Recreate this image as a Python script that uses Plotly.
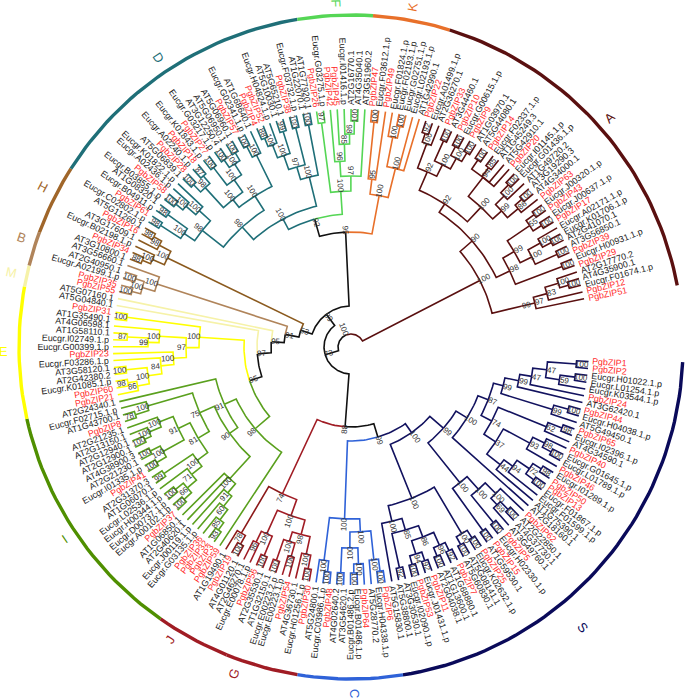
import math
import plotly.graph_objects as go

# tip labels, clockwise from the east
tip_labels = """PgbZIP1 PgbZIP2 Eucgr.H01022.1.p Eucgr.L01254.1.p Eucgr.K03544.1.p PgbZIP24 AT3G62420.1 PgbZIP44 Eucgr.H04038.1.p AT5G49450.1
PgbZIP65 Eucgr.I02396.1.p AT4G34590.1 PgbZIP40 Eucgr.G01645.1.p Eucgr.L01789.1.p PgbZIP46 Eucgr.I01289.1.p PgbZIP50 PgbZIP13
Eucgr.F01867.1.p Eucgr.F01599.1.p AT1G75390.1 AT2G18160.1 PgbZIP62 AT2G22850.1 AT4G37730.1 AT3G49760.1 PgbZIP5 Eucgr.H02330.1.p
PgbZIP15 AT1G59530.1 PgbZIP25 Eucgr.K02632.1.p AT5G08141.1 AT5G60830.1 PgbZIP7 AT1G68880.1 AT1G13600.1 AT2G04038.1
PgbZIP11 Eucgr.J01431.1.p PgbZIP53 Eucgr.I02090.1.p AT3G30530.1 AT5G38800.1 AT5G15830.1
PgbZIP6 Eucgr.H04338.1.p AT5G28770.2 PgbZIP64 Eucgr.B01486.1.p Eucgr.B01486.2.p AT3G54620.1 AT4G02640.2 PgbZIP48 Eucgr.C03986.1.p AT5G24800.1
PgbZIP30 Eucgr.H01256.1.p AT4G36730.1 PgbZIP54 Eucgr.E00223.1.p Eucgr.E00223.2.p AT1G32150.1 AT2G35530.1 PgbZIP56 Eucgr.E00078.1.p AT2G46270.1
AT4G01120.1 PgbZIP19 AT1G19490.1
PgbZIP59 PgbZIP3 PgbZIP32 PgbZIP36 Eucgr.G03135.1.p Eucgr.J00119.1.p AT2G40620.1 AT1G06850.1 PgbZIP37 Eucgr.A00102.1.p
Eucgr.D00737.1.p Eucgr.H00344.1.p Eucgr.L02536.1.p AT1G06070.1 AT2G31370.3 PgbZIP41 Eucgr.I01335.1.p AT2G21230.1 AT4G38900.3 AT2G12900.1
AT2G12940.1 AT2G13150.1 AT2G21235.1 PgbZIP8 AT1G43700.1 Eucgr.F02715.1.p AT2G24340.1
PgbZIP21 PgbZIP60 Eucgr.K01085.1.p AT2G42380.2 AT3G58120.1 Eucgr.F03286.1.p PgbZIP23 Eucgr.G00399.1.p Eucgr.I02749.1.p AT1G58110.1 AT4G06598.1 AT1G35490.1 PgbZIP31
AT5G04840.1 AT5G07160.1
PgbZIP55 PgbZIP35 Eucgr.A02199.1.p AT2G40950.1 AT3G56660.1
AT3G10800.1 PgbZIP34 Eucgr.B02198.1.p AT3G17609.1 PgbZIP16 AT5G11260.1
Eucgr.C02802.1.p PgbZIP61 Eucgr.B04911.p AT1G08320.1 Eucgr.B03855.1.p PgbZIP58 Eucgr.A02436.1.p Eucgr.K01822.1.p AT5G06839.1 PgbZIP28
Eucgr.A02240.1.p PgbZIP18 Eucgr.K01843.1.p PgbZIP27 Eucgr.G03217.1.p AT3G12250.4 AT5G06950.1 AT5G06960.1 PgbZIP57 Eucgr.G02341.1.p
AT1G68640.1 PgbZIP4 PgbZIP52 Eucgr.H04824.1.p AT5G10030.1 AT5G65210.1 PgbZIP38 Eucgr.F03732.1.p AT1G22070.1 AT1G77920.1
PgbZIP26 Eucgr.G03275.1.p PgbZIP42 PgbZIP45 Eucgr.I01416.1.p AT2G16770.1 AT4G35040.1 AT3G51960.2
PgbZIP47 Eucgr.F03612.1.p PgbZIP49 Eucgr.F01824.1.p Eucgr.F02193.1.p Eucgr.G02751.1.p Eucgr.L02193.1.p AT1G42990.1
PgbZIP22 Eucgr.A01499.1.p AT2G36270.1 PgbZIP33 AT3G44460.1 PgbZIP10 Eucgr.G00615.1.p PgbZIP9 AT1G03970.1 AT5G44080.1
PgbZIP14 Eucgr.F02337.1.p AT1G45249.3 AT5G42910.1 PgbZIP20 Eucgr.I01145.1.p Eucgr.G01436.1.p AT1G49720.2 AT3G19290.3 AT4G34000.1
PgbZIP63 Eucgr.J00320.1.p PgbZIP43 Eucgr.J00637.1.p PgbZIP17 Eucgr.A02171.1.p Eucgr.K01706.1.p AT2G41070.1 AT3G56850.1 PgbZIP39
Eucgr.H00931.1.p PgbZIP29 AT2G17770.2 AT4G35900.1 Eucgr.F01674.1.p PgbZIP12 PgbZIP51""".split()

clade_names = ["S", "C", "G", "J", "I", "E", "M", "B", "H", "D", "F", "K", "A"]
clade_colors = ["#12125f", "#2f62d8", "#a01c24", "#8c1a1a", "#5aa01e", "#ffff00", "#f6f2a8",
                "#b0845a", "#8b5a1e", "#1f6f78", "#55d655", "#e8702a", "#5a1010"]
arc_colors = ["#0a0a5a", "#2f62d8", "#a01c24", "#a01c24", "#4f8f00", "#ffff00", "#f6f2a8",
              "#b0845a", "#a0662a", "#1f6f78", "#55d655", "#e8702a", "#5a1010"]
# outer ring: where each clade's arc begins (deg clockwise from east), last is the end of A
arc_edges = [2.6, 81, 99.3, 112, 125, 167.5, 190.5, 194.2, 200.2, 212.5, 260.7, 273.8, 287.3, 349.3]
# clade letter: angle and radius
letter_theta = [50.5, 89.5, 109.7, 121.7, 146.1, 179.2, 192.4, 198.3, 207.4, 236.4, 267.5, 280.3, 318.4]
letter_r = [364, 346, 347, 344, 344, 348, 348, 347.5, 348, 348, 344, 346, 346]
palette = dict(zip(clade_names, clade_colors))

TIP_R = 238
BOX_R = 226


def n(r, label, kids, color=None, off=None):
    return dict(r=r, label=label, kids=kids, color=color, off=off)


def b(label="100"):
    return n(BOX_R, label, [0, 0])


def pale_tip():
    return n(TIP_R, "", [], palette["M"])


clade_S = n(106, "100", [
    n(124, "99", [
        n(137, "100", [
            n(148, "87", [
                n(158, "99", [
                    n(172, "99", [n(184, "47", [n(198, "47", [b(), n(212, "59", [b(), 0])]), 0]), 0]),
                    n(212, "99", [b(), 0])]),
                n(160, "74", [
                    n(212, "62", [b("98"), 0]),
                    n(174, "37", [
                        n(204, "93", [n(217, "98", [0, b()]), 0]),
                        n(191, "44", [n(202, "94", [n(217, "72", [b("98"), b()]), 0]), 0])])])]),
            0]),
        n(175, "100", [n(192, "100", [n(207, "100", [0, n(216, "69", [b(), 0])]), b()]), b()])]),
    n(164, "100", [
        n(218, "100", [b(), b()]),
        n(180, "100", [n(192, "85", [n(204, "86", [n(218, "96", [b("92"), b()]), n(218, "94", [b("92"), b()])]), b("92")]), 0])])],
    palette["S"])
clade_C = n(173, "100", [
    n(186, "100", [n(215, "100", [b(), 0]), n(202, "100", [n(218, "100", [0, b()]), b()])]),
    n(216, "100", [b(), 0])], palette["C"])
clade_J = n(217, "78", [b(), 0], palette["J"])
clade_G = n(163, "74", [
    n(180, "100", [
        n(195, "98", [n(213, "100", [b(), 0]), n(205, "100", [n(219, "100", [0, 0]), b()])]),
        n(206, "100", [b(), n(218, "96", [0, 0])])]),
    clade_J], palette["G"])
clade_I = n(127, "98", [0, n(140, "91", [
    n(150, "90", [
        n(180, "100", [n(192, "91", [n(205, "60", [n(218, "85", [b("93"), 0]), 0]), 0]), 0, 0]),
        n(166, "75", [
            n(179, "81", [
                n(192, "100", [n(205, "71", [n(217, "66", [b(), b()]), 0]), b("99")]),
                n(192, "91", [n(216, "100", [b(), b()]), n(207, "100", [n(220, "100", [b(), 0]), 0])])]),
            n(213, "100", [b("78"), 0])])]),
    0])], palette["I"])
clade_E = n(153, "100", [
    n(166, "97", [
        n(179, "100", [n(192, "84", [n(206, "100", [n(218, "86", [0, b("98")]), b()]), 0]), 0]),
        n(193, "100", [n(204, "99", [0, n(225, "87", [0, 0])]), 0])]),
    b()], palette["E"])
clade_B = n(205, "100", [n(218, "100", [b(), b()]), 0], palette["B"])
clade_H = n(205, "100", [n(218, "100", [b("88"), 0]), n(218, "98", [0, b("98")])], palette["H"])
clade_D = n(146, "100", [
    n(163, "98", [
        n(190, "98", [n(203, "100", [b("98"), b("98")]), n(205, "100", [n(218, "100", [b(), 0]), 0])]),
        n(180, "100", [
            n(190, "100", [n(217, "98", [b(), b("87")]), n(205, "100", [b(), n(218, "100", [b(), b()])])]),
            n(215, "100", [b(), 0])])]),
    n(176, "100", [n(189, "97", [n(204, "100", [n(218, "100", [b("88"), 0]), b("99")]), b()]), b()])],
    palette["D"])
clade_F = n(157, "100", [b("97"), n(172, "97", [n(187, "96", [0, n(204, "85", [0, n(214, "98", [0, b()])])]), 0])], palette["F"])
clade_K = n(155, "100", [n(170, "95", [b(), 0]), n(185, "100", [n(215, "100", [0, b()]), 0, 0])], palette["K"])
clade_A = n(146, "100", [
    n(162, "90", [
        n(172, "92", [
            n(192, "92", [n(218, "100", [b("92"), 0]), n(205, "100", [b(), n(217, "100", [b(), b()])])]),
            n(192, "100", [
                n(216, "94", [b(), b("85"), 0, 0]),
                n(204, "99", [n(216, "100", [b(), 0]), n(218, "86", [b(), 0])])])]),
        n(177, "98", [
            n(190, "99", [n(217, "55", [b(), b()]), n(203, "100", [n(217, "100", [0, b()]), b()])]),
            b()])]),
    n(176, "99", [n(190, "97", [n(204, "83", [n(218, "100", [0, b()]), 0]), 0])])], palette["A"])

BK = -4
backbone = n(13, "100", [
    n(27, "73", [
        n(80, "88", [n(94, "99", [clade_S, clade_C], off=BK + 8), clade_G], off=2),
        n(41, "89", [
            n(53, "53", [
                n(67, "91", [
                    n(80, "95", [
                        n(94, "97", [
                            n(107, "95", [clade_I, clade_E], off=BK),
                            pale_tip()], off=BK),
                        pale_tip()], off=BK),
                    clade_B], off=BK),
                clade_H], off=BK),
            n(115, "95", [n(133, "92", [clade_D, clade_F], off=BK), clade_K], off=2)], off=BK)], off=BK),
    clade_A], "#111111", off=6)

# page geometry of the circle
CX, CY = 351, 347
START, END = 3.5, 348.3
N = len(tip_labels)
STEP = (END - START) / (N - 1)

counter = [0]
segments = {}
boot = []


def px(r, t):
    a = math.radians(t)
    return CX + r * math.cos(a), CY + r * math.sin(a)


def add(color, pts):
    xs, ys = segments.setdefault(color, ([], []))
    for x, y in pts:
        xs.append(x)
        ys.append(y)
    xs.append(None)
    ys.append(None)


def arc(r, t0, t1):
    k = max(2, int(abs(t1 - t0) / 1.5) + 2)
    return [px(r, t0 + (t1 - t0) * i / (k - 1)) for i in range(k)]


def node_draw_r(node):
    # interior branch points sit just inside their support value
    if node["off"] is None and node["r"] != BOX_R:
        return node["r"] - 1
    return node["r"]


def layout_node(node, parent_color):
    """returns (theta, r, color) for a node or leaf"""
    if node == 0 or not node["kids"]:
        t = START + counter[0] * STEP
        counter[0] += 1
        c = parent_color if node == 0 else node["color"]
        return t, TIP_R, c
    color = node["color"] or parent_color
    placed = []
    for k in node["kids"]:
        placed.append((k,) + layout_node(k, color))
    t = (placed[0][1] + placed[-1][1]) / 2
    r = node_draw_r(node)
    for _, ct, cr, cc in placed:
        add(cc, arc(r, t, ct) + [px(cr, ct)])
    off = node["off"]
    if off is None:
        off = 6 if (node["r"] == BOX_R) else 4
    boot.append((node["r"] + off, t, node["label"]))
    return t, r, color


layout_node(backbone, "#111111")


def radial_angle(t):
    t = t % 360
    return t if math.cos(math.radians(t)) >= 0 else t - 180


annotations = []
W = 120
for i, name in enumerate(tip_labels):
    t = START + i * STEP
    x, y = px(242 + W / 2, t)
    right = math.cos(math.radians(t)) >= 0
    annotations.append(dict(
        x=x, y=y, text=name, showarrow=False, textangle=radial_angle(t),
        xanchor="center", yanchor="middle", width=W, align="left" if right else "right",
        borderpad=0, font=dict(family="Liberation Sans", size=8.9,
                               color="#ff2a2a" if name.startswith("Pgb") else "#1c1c1c")))
for r, t, label in boot:
    x, y = px(r, t)
    annotations.append(dict(
        x=x, y=y, text=label, showarrow=False, textangle=radial_angle(t),
        xanchor="center", yanchor="middle", borderpad=0,
        font=dict(family="Liberation Sans", size=8, color="#333333")))

fig = go.Figure()
for color, (xs, ys) in segments.items():
    fig.add_trace(go.Scatter(x=xs, y=ys, mode="lines", hoverinfo="skip", showlegend=False,
                             line=dict(color=color, width=1.6)))

# outer clade arcs and letters
for i, name in enumerate(clade_names):
    pts = arc(332, arc_edges[i], arc_edges[i + 1])
    fig.add_trace(go.Scatter(x=[p[0] for p in pts], y=[p[1] for p in pts], mode="lines",
                             hoverinfo="skip", showlegend=False,
                             line=dict(color=arc_colors[i], width=3.4)))
    x, y = px(letter_r[i], letter_theta[i])
    annotations.append(dict(x=x, y=y, text=name, showarrow=False, textangle=radial_angle(letter_theta[i]),
                            xanchor="center", yanchor="middle", borderpad=0,
                            font=dict(family="Liberation Sans", size=13, color=arc_colors[i])))

fig.update_layout(
    width=685, height=699, margin=dict(l=0, r=0, t=0, b=0),
    paper_bgcolor="white", plot_bgcolor="white", showlegend=False, annotations=annotations,
    xaxis=dict(visible=False, range=[0, 685], fixedrange=True),
    yaxis=dict(visible=False, range=[699, 0], fixedrange=True))
fig.write_html("out.html", config=dict(displayModeBar=False, responsive=False),
               post_script="document.body.style.margin='0';document.documentElement.style.overflow='hidden';")
